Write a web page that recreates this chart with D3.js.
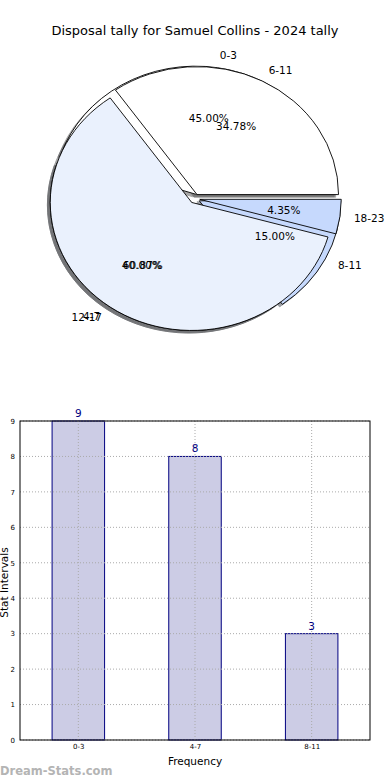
<!DOCTYPE html>
<html>
<head>
<meta charset="utf-8">
<script src="https://cdn.jsdelivr.net/npm/d3@7"></script>
<style>
  body { margin: 0; background: #fff; }
  text { font-family: "DejaVu Sans", sans-serif; }
</style>
</head>
<body>
<svg id="chart"></svg>
<script>
// data
const pieLabelsA = ["0-3", "4-7", "8-11"];
const pieValuesA = [9, 8, 3];
const pieLabelsB = ["6-11", "12-17", "18-23"];
const pieValuesB = [8, 14, 1];
const pieColors = ["#ffffff", "#eaf1fd", "#c6d9fd"];

const barCategories = ["0-3", "4-7", "8-11"];
const barValues = [9, 8, 3];
const yTicks = [0, 1, 2, 3, 4, 5, 6, 7, 8, 9];

const width = 390, height = 780;

const svg = d3.select("#chart")
    .attr("width", width)
    .attr("height", height)
    .attr("viewBox", [0, 0, width, height]);

svg.append("rect").attr("width", width).attr("height", height).attr("fill", "#fff");

// title
svg.append("text")
    .attr("x", 195).attr("y", 30)
    .attr("text-anchor", "middle")
    .attr("dominant-baseline", "central")
    .attr("font-size", 13)
    .text("Disposal tally for Samuel Collins - 2024 tally");

// ---- pie (two pies drawn over each other, like the original) ----
const cx = 194.7, cy = 198.7;
const r = 141.5;
const ys = 128 / 141.5;   // the pie is a bit squashed
const explode = 0.036;

const pie = d3.pie().sort(null)
    .startAngle(Math.PI / 2)
    .endAngle(Math.PI / 2 - 2 * Math.PI);

const arc = d3.arc().innerRadius(0).outerRadius(r);

const slicesA = pie(pieValuesA).map((d, i) => ({...d, label: pieLabelsA[i], color: pieColors[i], total: d3.sum(pieValuesA)}));
const slicesB = pie(pieValuesB).map((d, i) => ({...d, label: pieLabelsB[i], color: pieColors[i], total: d3.sum(pieValuesB)}));
const allSlices = slicesA.concat(slicesB);

const mid = d => (d.startAngle + d.endAngle) / 2;
const off = d => [Math.sin(mid(d)) * explode * r, -Math.cos(mid(d)) * explode * r];

const pg = svg.append("g").attr("transform", `translate(${cx},${cy}) scale(1,${ys})`);

// shadows go under every wedge
pg.append("g").selectAll("path")
    .data(allSlices)
    .join("path")
    .attr("transform", d => `translate(${off(d)[0] - 0.02 * r},${off(d)[1] + 0.02 * r})`)
    .attr("d", arc)
    .attr("fill", d => { const c = d3.rgb(d.color); return d3.rgb(c.r * 0.3, c.g * 0.3, c.b * 0.3); })
    .attr("stroke", d => { const c = d3.rgb(d.color); return d3.rgb(c.r * 0.3, c.g * 0.3, c.b * 0.3); })
    .attr("opacity", 0.5);

pg.append("g").selectAll("path")
    .data(allSlices)
    .join("path")
    .attr("transform", d => `translate(${off(d)[0]},${off(d)[1]})`)
    .attr("d", arc)
    .attr("fill", d => d.color)
    .attr("stroke", "#000")
    .attr("stroke-width", 0.9)
    .attr("vector-effect", "non-scaling-stroke");

// labels: names at 1.1 r, percentages at 0.6 r
const lg = svg.append("g").attr("font-size", 10.5);
allSlices.forEach(d => {
    const a = mid(d);
    const sx = Math.sin(a), sy = -Math.cos(a);
    const e = explode * r;
    lg.append("text")
        .attr("x", cx + sx * (e + 1.1 * r))
        .attr("y", cy + sy * (e + 1.1 * r) * ys)
        .attr("text-anchor", sx > 0 ? "start" : "end")
        .attr("dominant-baseline", "central")
        .text(d.label);
    lg.append("text")
        .attr("x", cx + sx * (e + 0.6 * r))
        .attr("y", cy + sy * (e + 0.6 * r) * ys)
        .attr("text-anchor", "middle")
        .attr("dominant-baseline", "central")
        .text((d.value / d.total * 100).toFixed(2) + "%");
});

// ---- bar chart ----
const bLeft = 20, bRight = 370, bTop = 421, bBottom = 740;

const x = d3.scalePoint()
    .domain(barCategories)
    .range([bLeft, bRight])
    .padding(0.5);
const barW = x.step() * 0.45;

const y = d3.scaleLinear()
    .domain([0, 9])
    .range([bBottom, bTop]);

svg.append("g")
    .selectAll("rect")
    .data(barValues)
    .join("rect")
    .attr("x", (d, i) => x(barCategories[i]) - barW / 2)
    .attr("y", d => y(d))
    .attr("width", barW)
    .attr("height", d => y(0) - y(d))
    .attr("fill", "#cccce5")
    .attr("stroke", "#000080")
    .attr("stroke-width", 1);

// grid (drawn over the bars)
const grid = svg.append("g")
    .attr("stroke", "#aaa")
    .attr("stroke-width", 1)
    .attr("stroke-dasharray", "1,2");
grid.selectAll(".h")
    .data(yTicks)
    .join("line")
    .attr("x1", bLeft).attr("x2", bRight)
    .attr("y1", d => y(d)).attr("y2", d => y(d));
grid.selectAll(".v")
    .data(barCategories)
    .join("line")
    .attr("x1", d => x(d)).attr("x2", d => x(d))
    .attr("y1", bTop).attr("y2", bBottom);

// frame
svg.append("rect")
    .attr("x", bLeft).attr("y", bTop)
    .attr("width", bRight - bLeft).attr("height", bBottom - bTop)
    .attr("fill", "none")
    .attr("stroke", "#000")
    .attr("stroke-width", 1);

// axes
svg.append("g")
    .attr("transform", `translate(${bLeft},0)`)
    .call(d3.axisLeft(y).tickValues(yTicks).tickSize(0).tickPadding(5))
    .call(g => g.select(".domain").remove())
    .call(g => g.selectAll("text").attr("font-size", 7).attr("font-family", "DejaVu Sans"));

svg.append("g")
    .attr("transform", `translate(0,${bBottom})`)
    .call(d3.axisBottom(x).tickSize(0).tickPadding(4))
    .call(g => g.select(".domain").remove())
    .call(g => g.selectAll("text").attr("font-size", 7).attr("font-family", "DejaVu Sans"));

// value labels
svg.append("g")
    .selectAll("text")
    .data(barValues)
    .join("text")
    .attr("x", (d, i) => x(barCategories[i]))
    .attr("y", d => y(d) - 4)
    .attr("text-anchor", "middle")
    .attr("font-size", 10.5)
    .attr("fill", "#000080")
    .text(d => d);

svg.append("text")
    .attr("x", (bLeft + bRight) / 2).attr("y", 761)
    .attr("text-anchor", "middle")
    .attr("dominant-baseline", "central")
    .attr("font-size", 10.5)
    .text("Frequency");

svg.append("text")
    .attr("transform", `translate(4,${(bTop + bBottom) / 2 + 2}) rotate(-90)`)
    .attr("text-anchor", "middle")
    .attr("dominant-baseline", "central")
    .attr("font-size", 10.5)
    .text("Stat Intervals");

// watermark
svg.append("text")
    .attr("x", 0).attr("y", 775)
    .attr("font-size", 11.5)
    .attr("font-weight", "bold")
    .attr("fill", "#b4b4b4")
    .text("Dream-Stats.com");
</script>
</body>
</html>
